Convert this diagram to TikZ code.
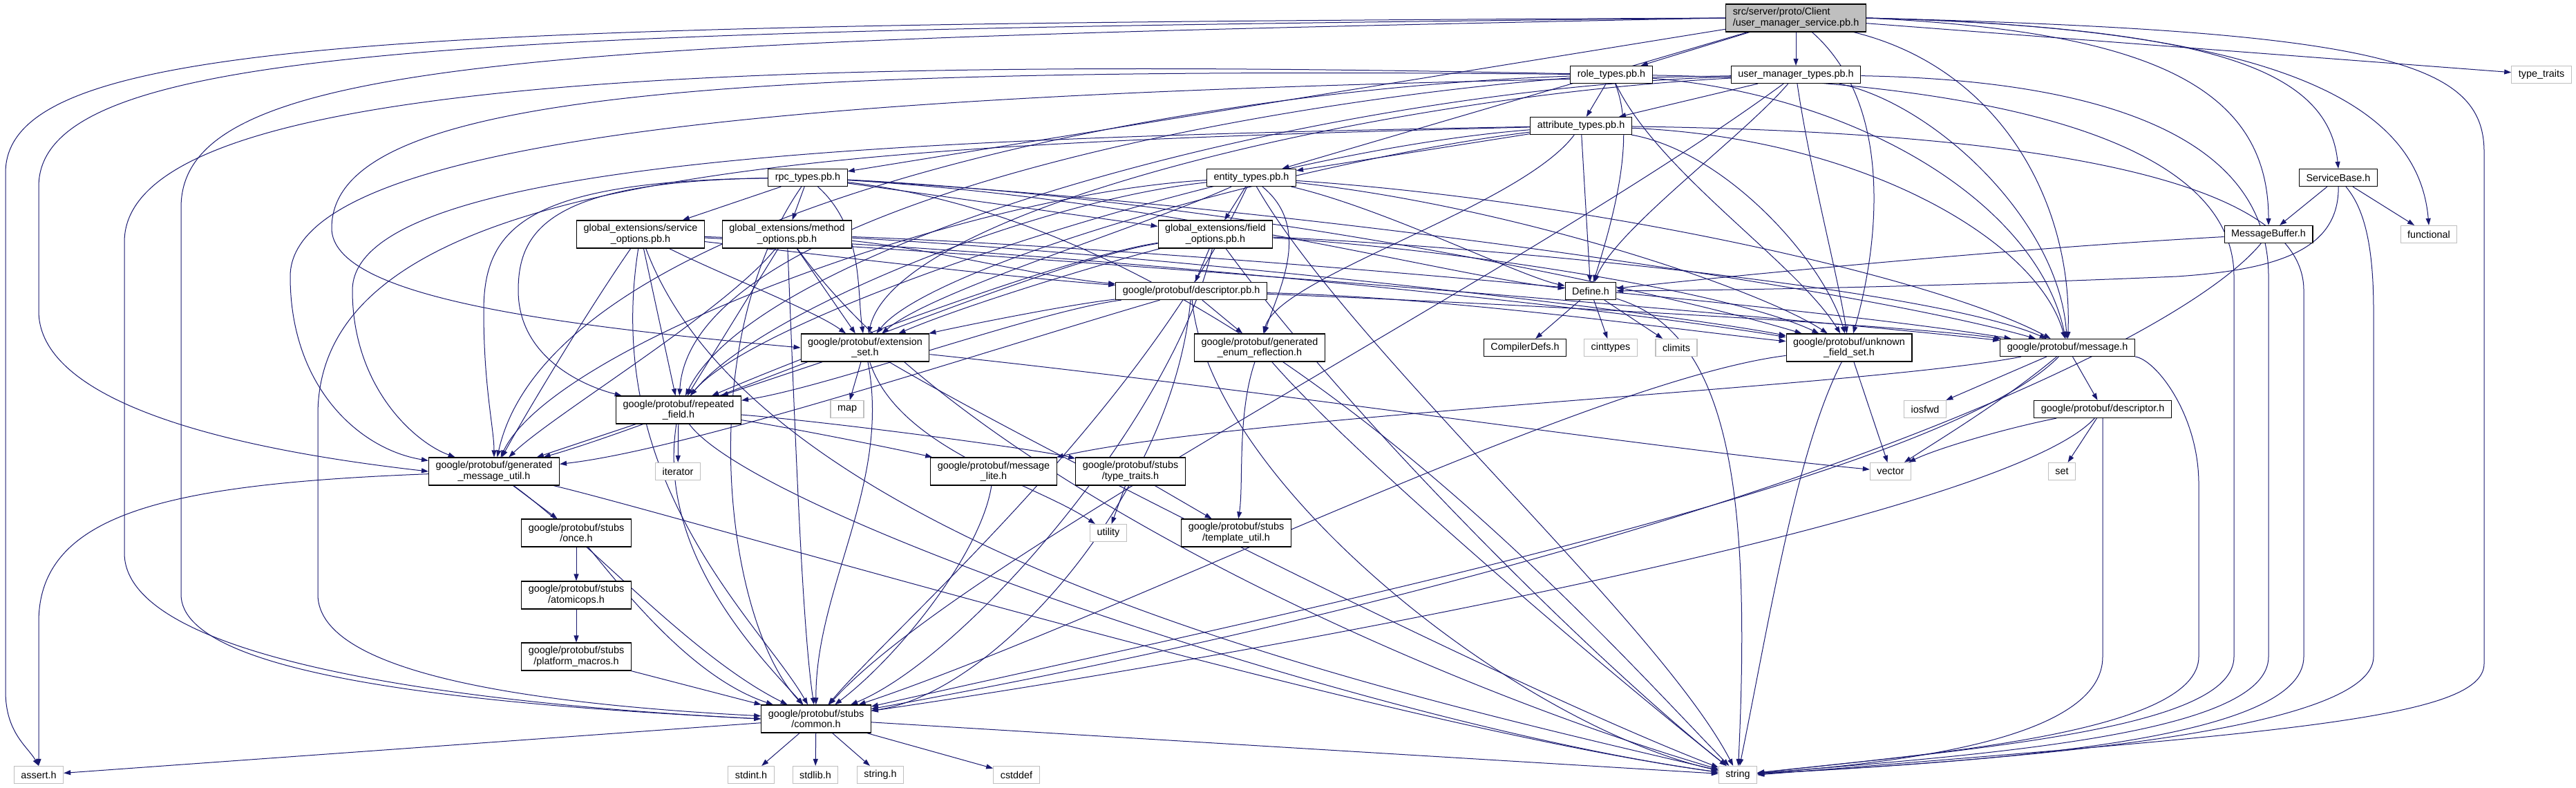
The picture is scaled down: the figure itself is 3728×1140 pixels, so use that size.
\documentclass[tikz,border=0pt]{standalone}
\usepackage{fontspec}
\setmainfont{Liberation Sans}
\usetikzlibrary{arrows.meta}
\definecolor{edgeblue}{HTML}{191970}
\definecolor{sysgray}{HTML}{BFBFBF}
\newcommand{\hdrfont}{\fontsize{14.4}{15.5}\selectfont}
\tikzstyle{hdr} = [draw=black, fill=white, line width=1.2pt, font=\hdrfont, inner xsep=10pt, inner ysep=0pt, minimum height=25pt]
\tikzstyle{hdrtwo} = [hdr, align=center, minimum height=40pt]
\tikzstyle{syshdr} = [hdr, draw=sysgray]
\tikzstyle{incl} = [->, >={Triangle[length=10pt,width=7pt]}, draw=edgeblue, line width=1pt]
\pgfdeclarelayer{edgelayer}
\pgfsetlayers{edgelayer,main}
\begin{document}
\begin{tikzpicture}[x=1pt,y=1pt]
        \useasboundingbox (0,0) rectangle (3728,-1140);
        \node[hdrtwo, fill=sysgray, align=left] at (2599,-26) (root) {src/server/proto/Client\\/user\_manager\_service.pb.h};
        \node[hdr] at (2332,-108) (role) {role\_types.pb.h};
        \node[hdr] at (2599,-108) (umt) {user\_manager\_types.pb.h};
        \node[syshdr] at (3678,-108) (typetraits) {type\_traits};
        \node[hdr] at (2288,-182) (attr) {attribute\_types.pb.h};
        \node[hdr] at (1169,-257) (rpc) {rpc\_types.pb.h};
        \node[hdr] at (1811,-257) (entity) {entity\_types.pb.h};
        \node[hdr] at (3384,-257) (servbase) {ServiceBase.h};
        \node[hdrtwo] at (927,-339) (svcopt) {global\_extensions/service\\\_options.pb.h};
        \node[hdrtwo] at (1139,-339) (methopt) {global\_extensions/method\\\_options.pb.h};
        \node[hdrtwo] at (1759,-339) (fieldopt) {global\_extensions/field\\\_options.pb.h};
        \node[hdr] at (3283,-339) (msgbuf) {MessageBuffer.h};
        \node[syshdr] at (3515,-339) (functional) {functional};
        \node[hdr] at (1724,-421) (descpb) {google/protobuf/descriptor.pb.h};
        \node[hdr] at (2302,-421) (define) {Define.h};
        \node[hdrtwo] at (1252,-503) (extset) {google/protobuf/extension\\\_set.h};
        \node[hdrtwo] at (1823,-503) (enumrefl) {google/protobuf/generated\\\_enum\_reflection.h};
        \node[hdr] at (2207,-503) (compdefs) {CompilerDefs.h};
        \node[syshdr] at (2331,-503) (cinttypes) {cinttypes};
        \node[syshdr] at (2426,-503) (climits) {climits};
        \node[hdrtwo] at (2676,-503) (unkfs) {google/protobuf/unknown\\\_field\_set.h};
        \node[hdr] at (2992,-503) (msgh) {google/protobuf/message.h};
        \node[hdrtwo] at (982,-593) (repf) {google/protobuf/repeated\\\_field.h};
        \node[syshdr] at (1226,-592) (stlmap) {map};
        \node[syshdr] at (2786,-592) (iosfwd) {iosfwd};
        \node[hdr] at (3043,-592) (desch) {google/protobuf/descriptor.h};
        \node[hdrtwo] at (715,-682) (gmu) {google/protobuf/generated\\\_message\_util.h};
        \node[syshdr] at (981,-682) (iterator) {iterator};
        \node[hdrtwo] at (1438,-682) (msglite) {google/protobuf/message\\\_lite.h};
        \node[hdrtwo] at (1636,-682) (ststt) {google/protobuf/stubs\\/type\_traits.h};
        \node[syshdr] at (2736,-682) (vector) {vector};
        \node[syshdr] at (2984,-682) (stlset) {set};
        \node[hdrtwo] at (834,-771) (once) {google/protobuf/stubs\\/once.h};
        \node[syshdr] at (1604,-771) (utility) {utility};
        \node[hdrtwo] at (1789,-771) (tmplutil) {google/protobuf/stubs\\/template\_util.h};
        \node[hdrtwo] at (834,-861) (atomicops) {google/protobuf/stubs\\/atomicops.h};
        \node[hdrtwo] at (834,-950) (platform) {google/protobuf/stubs\\/platform\_macros.h};
        \node[hdrtwo] at (1181,-1040) (common) {google/protobuf/stubs\\/common.h};
        \node[syshdr] at (56,-1121) (asserth) {assert.h};
        \node[syshdr] at (1087,-1121) (stdint) {stdint.h};
        \node[syshdr] at (1180,-1121) (stdlib) {stdlib.h};
        \node[syshdr] at (1274,-1121) (stringh) {string.h};
        \node[syshdr] at (1471,-1121) (cstddef) {cstddef};
        \node[syshdr] at (2515,-1121) (string) {string};

        \begin{pgfonlayer}{edgelayer}
        \draw[incl] (root) -- (role);
        \draw[incl] (root) -- (umt);
        \draw[incl] (root) -- (rpc);
        \draw[incl] (root) -- (entity);
        \draw[incl] (root) -- (typetraits);
        \draw[incl] (root.east) .. controls (3200,-40) and (3370,-100) .. (servbase.north);
        \draw[incl] (root.east) .. controls (3100,-45) and (3283,-120) .. (msgbuf.north);
        \draw[incl] (root.east) .. controls (3300,-40) and (3500,-150) .. (functional.north);
        \draw[incl] (root) .. controls (2740,-150) and (2720,-350) .. (unkfs);
        \draw[incl] (root) .. controls (2900,-100) and (3000,-300) .. (msgh);
        \draw[incl] (root.east) .. controls (3450,-45) and (3595,-90) .. (3595,-220) -- (3595,-960) .. controls (3595,-1040) and (3300,-1060) .. (string.east);
        \draw[incl] (root.west) .. controls (600,-35) and (8,-50) .. (8,-250) -- (8,-1000) .. controls (8,-1060) and (40,-1080) .. (asserth.north);
        \draw[incl] (root.west) .. controls (700,-45) and (56,-60) .. (56,-270) -- (56,-450) .. controls (56,-560) and (250,-640) .. (gmu.west);
        \draw[incl] (root.west) .. controls (800,-60) and (262,-80) .. (262,-300) -- (262,-860) .. controls (262,-980) and (700,-1020) .. (common.west);

        \draw[incl] (role) -- (attr);
        \draw[incl] (role) .. controls (2370,-200) and (2330,-330) .. (define);
        \draw[incl] (role) .. controls (2700,-140) and (2950,-300) .. (msgh);
        \draw[incl] (role) .. controls (2400,-250) and (2600,-380) .. (unkfs);
        \draw[incl] (role) .. controls (2800,-115) and (3233,-180) .. (3233,-400) -- (3233,-950) .. controls (3233,-1050) and (2900,-1080) .. (string);
        \draw[incl] (role) .. controls (1000,-95) and (480,-140) .. (480,-330) .. controls (480,-430) and (800,-470) .. (extset.west);
        \draw[incl] (role) .. controls (1000,-80) and (180,-120) .. (180,-350) -- (180,-800) .. controls (180,-960) and (700,-1020) .. (common.west);
        \draw[incl] (role) .. controls (1800,-150) and (1000,-300) .. (repf);
        \draw[incl] (role) .. controls (1700,-130) and (800,-300) .. (gmu);

        \draw[incl] (umt) -- (attr);
        \draw[incl] (umt) .. controls (2520,-200) and (2340,-330) .. (define);
        \draw[incl] (umt) .. controls (2800,-150) and (2980,-320) .. (msgh);
        \draw[incl] (umt) .. controls (2620,-250) and (2660,-400) .. (unkfs);
        \draw[incl] (umt) .. controls (3000,-115) and (3283,-180) .. (3283,-400) -- (3283,-950) .. controls (3283,-1060) and (2900,-1090) .. (string);
        \draw[incl] (umt) .. controls (2000,-140) and (1300,-300) .. (extset);
        \draw[incl] (umt) .. controls (1900,-130) and (1100,-350) .. (repf);
        \draw[incl] (umt) .. controls (1400,-130) and (420,-170) .. (420,-400) .. controls (420,-560) and (520,-650) .. (gmu);
        \draw[incl] (umt) .. controls (2200,-400) and (1400,-800) .. (common);

        \draw[incl] (attr) -- (entity);
        \draw[incl] (attr) -- (define);
        \draw[incl] (attr) .. controls (2200,-300) and (1850,-400) .. (enumrefl);
        \draw[incl] (attr) .. controls (2700,-200) and (2950,-350) .. (msgh);
        \draw[incl] (attr) .. controls (2500,-220) and (2640,-380) .. (unkfs);
        \draw[incl] (attr) .. controls (2900,-190) and (3334,-250) .. (3334,-420) -- (3334,-950) .. controls (3334,-1070) and (2900,-1100) .. (string);
        \draw[incl] (attr) .. controls (1900,-230) and (1350,-380) .. (extset);
        \draw[incl] (attr) .. controls (1800,-220) and (1100,-450) .. (repf);
        \draw[incl] (attr) .. controls (1300,-200) and (510,-230) .. (510,-420) .. controls (510,-560) and (600,-640) .. (gmu);
        \draw[incl] (attr) .. controls (1200,-210) and (460,-240) .. (460,-600) -- (460,-860) .. controls (460,-980) and (800,-1020) .. (common);

        \draw[incl] (entity) -- (fieldopt);
        \draw[incl] (entity) .. controls (2000,-300) and (2200,-400) .. (define);
        \draw[incl] (entity) .. controls (1900,-330) and (1850,-420) .. (enumrefl);
        \draw[incl] (entity) .. controls (2300,-290) and (2800,-400) .. (msgh);
        \draw[incl] (entity) .. controls (2200,-300) and (2550,-420) .. (unkfs);
        \draw[incl] (entity) .. controls (1950,-500) and (2400,-900) .. (string);
        \draw[incl] (entity) .. controls (1650,-330) and (1350,-420) .. (extset);
        \draw[incl] (entity) .. controls (1500,-290) and (1100,-450) .. (repf);
        \draw[incl] (entity) .. controls (1400,-280) and (800,-500) .. (gmu);
        \draw[incl] (entity) .. controls (1650,-600) and (1300,-900) .. (common);

        \draw[incl] (rpc) -- (svcopt);
        \draw[incl] (rpc) -- (methopt);
        \draw[incl] (rpc) -- (fieldopt);
        \draw[incl] (rpc) .. controls (1700,-290) and (2100,-400) .. (define);
        \draw[incl] (rpc) .. controls (1900,-300) and (2700,-420) .. (msgh);
        \draw[incl] (rpc) .. controls (1800,-290) and (2400,-420) .. (unkfs);
        \draw[incl] (rpc) .. controls (1800,-330) and (2300,-900) .. (string);
        \draw[incl] (rpc) .. controls (1250,-330) and (1240,-420) .. (extset);
        \draw[incl] (rpc) .. controls (800,-262) and (750,-330) .. (750,-420) .. controls (750,-520) and (850,-560) .. (repf);
        \draw[incl] (rpc) .. controls (760,-262) and (700,-330) .. (700,-450) .. controls (700,-560) and (715,-620) .. (gmu);
        \draw[incl] (rpc) .. controls (1000,-500) and (1050,-900) .. (common);

        \draw[incl] (svcopt) .. controls (1200,-370) and (1450,-400) .. (descpb);
        \draw[incl] (svcopt) .. controls (1050,-400) and (1180,-450) .. (extset);
        \draw[incl] (svcopt) -- (repf);
        \draw[incl] (svcopt) .. controls (850,-450) and (760,-600) .. (gmu);
        \draw[incl] (svcopt) .. controls (870,-700) and (1100,-900) .. (common);
        \draw[incl] (svcopt) .. controls (1500,-370) and (2500,-450) .. (msgh);
        \draw[incl] (svcopt) .. controls (1500,-360) and (2300,-440) .. (unkfs);
        \draw[incl] (svcopt) .. controls (1100,-800) and (2000,-1000) .. (string);

        \draw[incl] (methopt) .. controls (1350,-360) and (1500,-400) .. (descpb);
        \draw[incl] (methopt) -- (extset);
        \draw[incl] (methopt) -- (repf);
        \draw[incl] (methopt) .. controls (1050,-450) and (800,-600) .. (gmu);
        \draw[incl] (methopt) .. controls (1150,-600) and (1160,-900) .. (common);
        \draw[incl] (methopt) .. controls (1700,-360) and (2600,-440) .. (msgh);
        \draw[incl] (methopt) .. controls (1700,-370) and (2400,-450) .. (unkfs);
        \draw[incl] (methopt) .. controls (1400,-700) and (2100,-1000) .. (string);

        \draw[incl] (fieldopt) -- (descpb);
        \draw[incl] (fieldopt) .. controls (1600,-380) and (1400,-440) .. (extset);
        \draw[incl] (fieldopt) .. controls (1550,-370) and (1200,-500) .. (repf);
        \draw[incl] (fieldopt) .. controls (1500,-380) and (1000,-600) .. (gmu);
        \draw[incl] (fieldopt) .. controls (1700,-600) and (1400,-950) .. (common);
        \draw[incl] (fieldopt) .. controls (2200,-360) and (2800,-420) .. (msgh);
        \draw[incl] (fieldopt) .. controls (2100,-360) and (2500,-420) .. (unkfs);
        \draw[incl] (fieldopt) .. controls (1950,-600) and (2300,-950) .. (string);

        \draw[incl] (descpb) -- (enumrefl);
        \draw[incl] (descpb) .. controls (1550,-440) and (1400,-470) .. (extset);
        \draw[incl] (descpb) .. controls (1500,-450) and (1200,-560) .. (repf);
        \draw[incl] (descpb) .. controls (1450,-500) and (1000,-650) .. (gmu);
        \draw[incl] (descpb) .. controls (1700,-700) and (1450,-1000) .. (common);
        \draw[incl] (descpb) .. controls (2200,-440) and (2750,-470) .. (msgh);
        \draw[incl] (descpb) .. controls (2100,-430) and (2450,-480) .. (unkfs);
        \draw[incl] (descpb) .. controls (1750,-700) and (2200,-1050) .. (string);

        \draw[incl] (extset) -- (repf);
        \draw[incl] (extset) -- (stlmap);
        \draw[incl] (extset) .. controls (1800,-560) and (2400,-650) .. (vector);
        \draw[incl] (extset) .. controls (1300,-650) and (1500,-700) .. (utility);
        \draw[incl] (extset) .. controls (1290,-700) and (1180,-850) .. (common);
        \draw[incl] (extset) .. controls (1500,-650) and (2200,-1000) .. (string);

        \draw[incl] (repf) -- (iterator);
        \draw[incl] (repf) .. controls (1150,-620) and (1300,-650) .. (msglite);
        \draw[incl] (repf) .. controls (1200,-610) and (1500,-650) .. (ststt);
        \draw[incl] (repf) -- (gmu);
        \draw[incl] (repf) .. controls (950,-800) and (1100,-950) .. (common);
        \draw[incl] (repf) .. controls (1100,-750) and (2000,-1050) .. (string);

        \draw[incl] (gmu) -- (once);
        \draw[incl] (gmu) .. controls (850,-780) and (1000,-950) .. (common);
        \draw[incl] (gmu) .. controls (1000,-750) and (2000,-1050) .. (string);
        \draw[incl] (gmu) .. controls (250,-700) and (56,-740) .. (56,-900) -- (asserth);

        \draw[incl] (msglite) .. controls (1420,-800) and (1300,-950) .. (common);
        \draw[incl] (ststt) -- (utility);
        \draw[incl] (ststt) -- (tmplutil);
        \draw[incl] (enumrefl) .. controls (1790,-600) and (1800,-700) .. (tmplutil);
        \draw[incl] (enumrefl) .. controls (1950,-650) and (2300,-950) .. (string);
        \draw[incl] (once) -- (atomicops);
        \draw[incl] (once) .. controls (900,-850) and (1000,-980) .. (common);
        \draw[incl] (atomicops) -- (platform);
        \draw[incl] (platform) -- (common);
        \draw[incl] (common) -- (stdint);
        \draw[incl] (common) -- (stdlib);
        \draw[incl] (common) -- (stringh);
        \draw[incl] (common) -- (cstddef);
        \draw[incl] (common) -- (string);
        \draw[incl] (common) -- (asserth);

        \draw[incl] (define) -- (compdefs);
        \draw[incl] (define) -- (cinttypes);
        \draw[incl] (define) -- (climits);
        \draw[incl] (define) .. controls (2500,-480) and (2535,-700) .. (string);
        \draw[incl] (unkfs) -- (vector);
        \draw[incl] (unkfs) .. controls (2600,-650) and (2560,-900) .. (string);
        \draw[incl] (unkfs) .. controls (2300,-550) and (1600,-900) .. (common);

        \draw[incl] (msgh) -- (iosfwd);
        \draw[incl] (msgh) -- (desch);
        \draw[incl] (msgh) .. controls (2900,-580) and (2800,-640) .. (vector);
        \draw[incl] (msgh) .. controls (2700,-560) and (1800,-600) .. (msglite);
        \draw[incl] (msgh) .. controls (2800,-700) and (1800,-900) .. (common);
        \draw[incl] (msgh) .. controls (3120,-520) and (3182,-600) .. (3182,-700) -- (3182,-950) .. controls (3182,-1060) and (2800,-1090) .. (string);
        \draw[incl] (desch) -- (stlset);
        \draw[incl] (desch) .. controls (2900,-620) and (2800,-650) .. (vector);
        \draw[incl] (desch) .. controls (2900,-750) and (1800,-950) .. (common);
        \draw[incl] (desch.south) -- (3043,-950) .. controls (3043,-1060) and (2800,-1100) .. (string);

        \draw[incl] (msgbuf) .. controls (2900,-360) and (2500,-400) .. (define);
        \draw[incl] (msgbuf) .. controls (3150,-500) and (2500,-800) .. (common);
        \draw[incl] (servbase) -- (msgbuf);
        \draw[incl] (servbase) -- (functional);
        \draw[incl] (servbase) .. controls (3385,-360) and (3300,-390) .. (3150,-400) .. controls (2800,-415) and (2500,-420) .. (define);
        \draw[incl] (servbase) .. controls (3420,-300) and (3435,-350) .. (3435,-450) -- (3435,-950) .. controls (3435,-1060) and (2900,-1100) .. (string);
        \end{pgfonlayer}
\end{tikzpicture}
\end{document}
